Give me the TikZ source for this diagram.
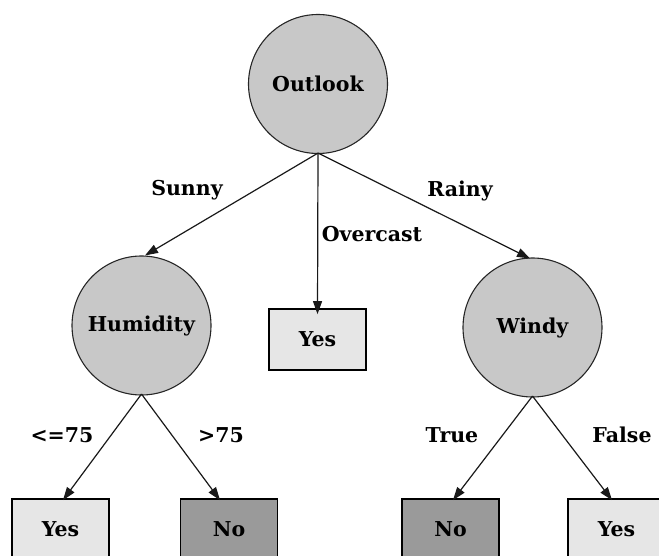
\documentclass[tikz,border=0pt]{standalone}
\usepackage{fontspec}
\setmainfont{DejaVu Serif}
\usetikzlibrary{arrows.meta}
\definecolor{circfill}{HTML}{C8C8C8}
\definecolor{yesfill}{HTML}{E6E6E6}
\definecolor{nofill}{HTML}{9A9A9A}
\begin{document}
\begin{tikzpicture}[x=1pt,y=-1pt,
  every node/.style={font=\fontsize{20.5pt}{24pt}\selectfont\bfseries},
  attr/.style={circle, draw=black!85, line width=1.1pt, fill=circfill, minimum size=139pt, inner sep=0pt},
  yesbox/.style={rectangle, draw=black, line width=1.7pt, fill=yesfill, minimum width=97pt, minimum height=61pt, inner sep=0pt},
  nobox/.style={rectangle, draw=black, line width=1.7pt, fill=nofill, minimum width=97pt, minimum height=61pt, inner sep=0pt},
  edge/.style={draw=black!90, line width=1.2pt, -{Triangle[length=13pt,width=9pt]}},
  lbl/.style={inner sep=0pt}]
\useasboundingbox (0,0) rectangle (659,556);
\node[attr] (O) at (318,84) {Outlook};
\node[attr] (H) at (141.5,325.5) {Humidity};
\node[attr] (W) at (532.5,327.5) {Windy};
\node[yesbox] (Y1) at (317.5,339.5) {Yes};
\node[yesbox] (Y2) at (60.5,529.5) {Yes};
\node[nobox] (N1) at (229,529.5) {No};
\node[nobox] (N2) at (450.5,529.5) {No};
\node[yesbox] (Y3) at (616.5,529.5) {Yes};
\draw[edge] ([yshift=1pt]O.south) -- ([xshift=3.5pt]H.north);
\draw[edge] ([yshift=1pt]O.south) -- ([yshift=-6pt]Y1.north);
\draw[edge] ([yshift=1pt]O.south) -- ([xshift=-2.5pt,yshift=-1pt]W.north);
\draw[edge] ([yshift=1.5pt]H.south) -- ([xshift=2.5pt,yshift=-2pt]Y2.north);
\draw[edge] ([yshift=1.5pt]H.south) -- ([xshift=-9pt,yshift=-2pt]N1.north);
\draw[edge] ([yshift=1.5pt]W.south) -- ([xshift=2.5pt,yshift=-2pt]N2.north);
\draw[edge] ([yshift=1.5pt]W.south) -- ([xshift=-4.5pt,yshift=-2pt]Y3.north);
\node[lbl] (lS) at (187,190) {Sunny};
\node[lbl] (lO) at (372,234) {Overcast};
\node[lbl] (lR) at (460,191) {Rainy};
\node[lbl] (l1) at (62,435) {<=75};
\node[lbl] (l2) at (221,435) {>75};
\node[lbl] (l3) at (452,435) {True};
\node[lbl] (l4) at (622,435) {False};
\end{tikzpicture}
\end{document}
